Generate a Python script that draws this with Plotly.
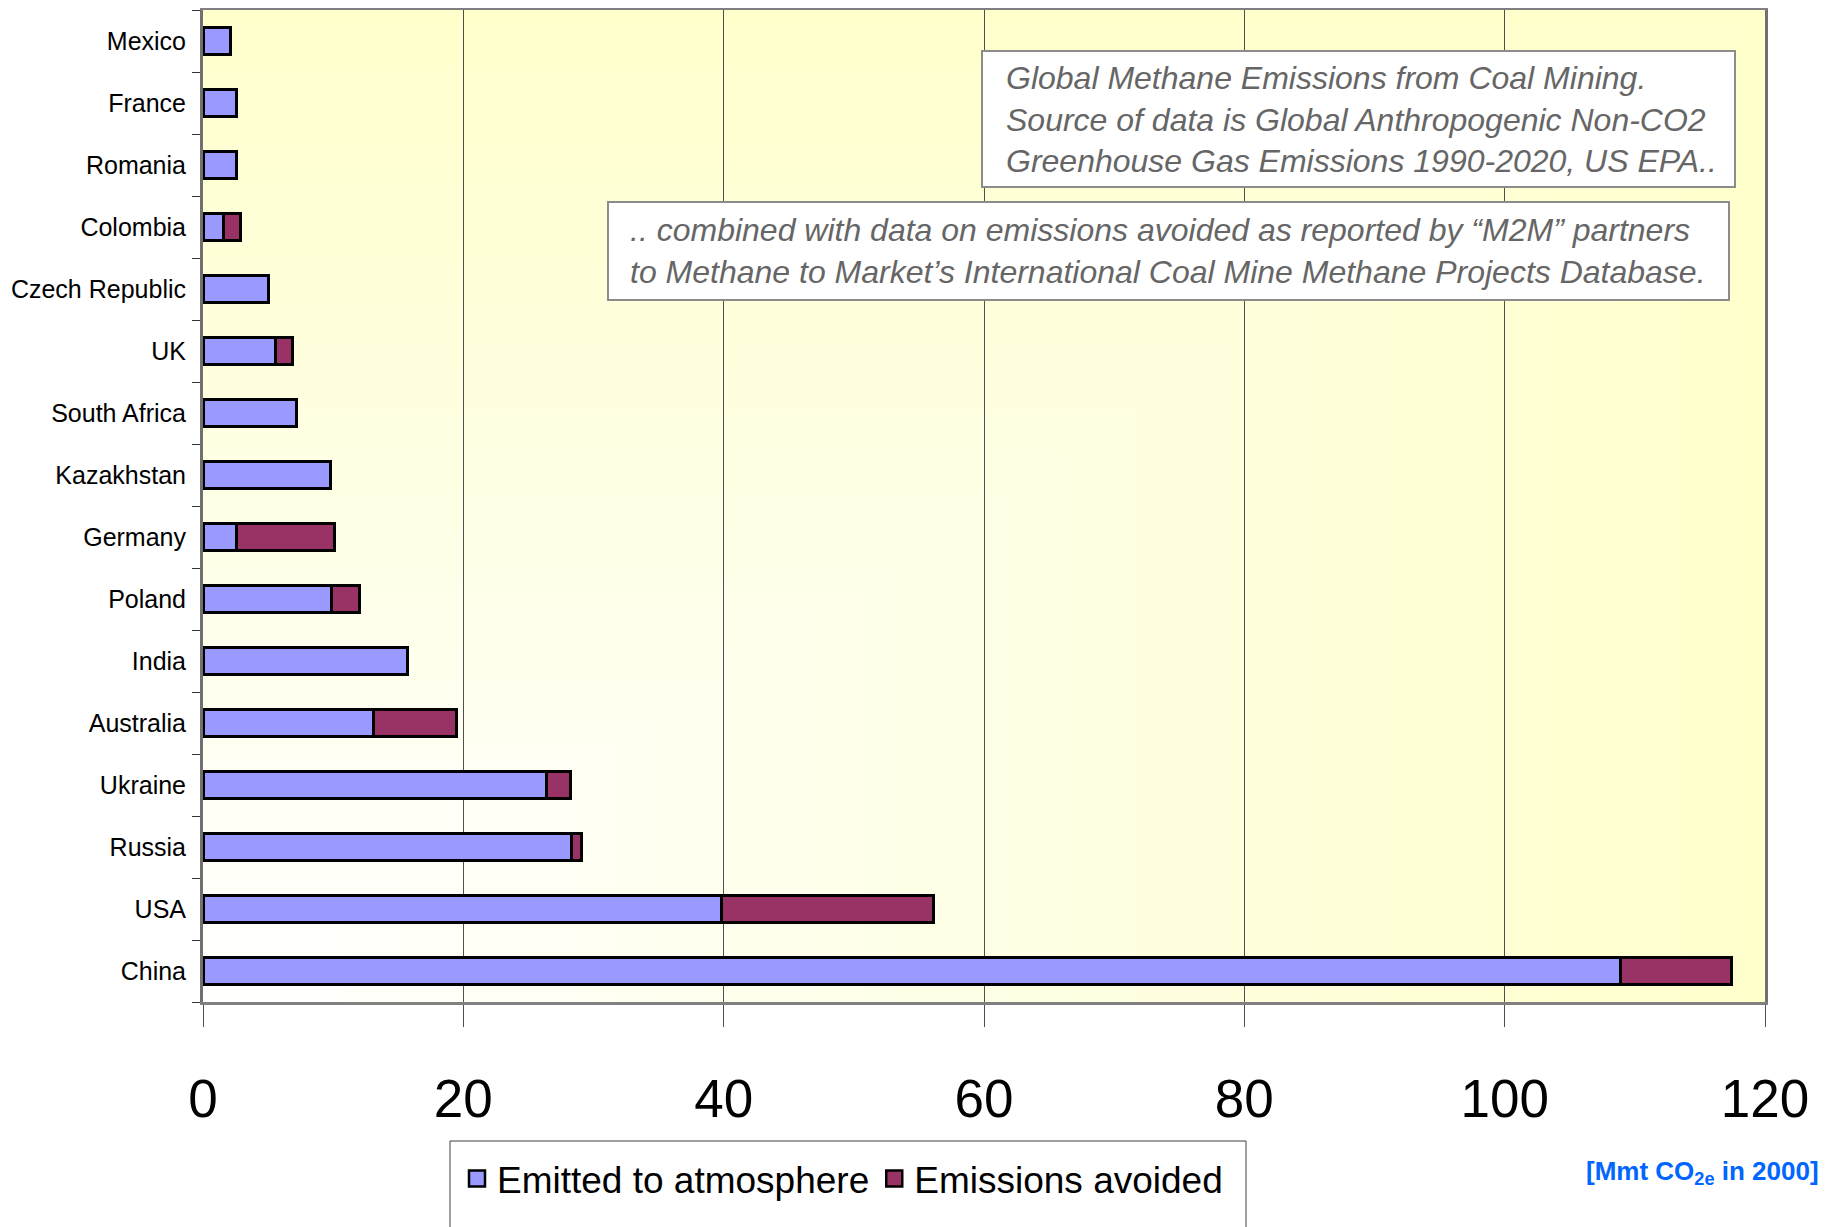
import zlib, struct, base64
import plotly.graph_objects as go

# ---- data (bottom -> top on the category axis) ----
countries = ["China", "USA", "Russia", "Ukraine", "Australia", "India", "Poland", "Germany",
             "Kazakhstan", "South Africa", "UK", "Czech Republic", "Colombia", "Romania",
             "France", "Mexico"]
emitted = [108.9, 39.8, 28.3, 26.4, 13.1, 15.7, 9.9, 2.6, 9.8, 7.2, 5.6, 5.0, 1.6, 2.6, 2.6, 2.1]
avoided = [8.5, 16.3, 0.8, 1.8, 6.4, None, 2.1, 7.5, None, None, 1.3, None, 1.3, None, None, None]
x_ticks = [0, 20, 40, 60, 80, 100, 120]
series_names = ["Emitted to atmosphere", "Emissions avoided"]
series_colors = ["#9999FF", "#993366"]

SANS = "Liberation Sans, Arial, sans-serif"

# ---- background gradient (white lower-left corner -> light yellow) ----
def gradient_uri(w=160, h=100):
    raw = bytearray()
    for j in range(h):
        raw.append(0)
        v = 1 - j / (h - 1)
        for i in range(w):
            u = i / (w - 1)
            t = max(u, v)
            raw.extend((255, 255, int(round(255 - 51 * t))))
    def chunk(tag, data):
        c = struct.pack(">I", len(data)) + tag + data
        return c + struct.pack(">I", zlib.crc32(tag + data) & 0xffffffff)
    png = (b"\x89PNG\r\n\x1a\n"
           + chunk(b"IHDR", struct.pack(">IIBBBBB", w, h, 8, 2, 0, 0, 0))
           + chunk(b"IDAT", zlib.compress(bytes(raw), 9))
           + chunk(b"IEND", b""))
    return "data:image/png;base64," + base64.b64encode(png).decode()

fig = go.Figure()
for name, vals, col in zip(series_names, [emitted, avoided], series_colors):
    fig.add_trace(go.Bar(y=countries, x=vals, orientation="h", name=name, showlegend=False,
                         legendgroup=name,
                         marker=dict(color=col, line=dict(color="black", width=3))))
# legend entries with larger square swatches
for name, col in zip(series_names, series_colors):
    fig.add_trace(go.Scatter(x=[None], y=[None], mode="markers", name=name, legendgroup=name,
                             marker=dict(symbol="square", size=16, color=col,
                                         line=dict(color="black", width=2.5)),
                             hoverinfo="skip"))

# page has an 8px body margin; size the figure so it fits the window exactly
OFF = 8
W, H = 1829 - OFF, 1227 - OFF
PL, PR, PT, PB = 203, 1765, 10, 1002          # plot area in page pixels
L, T = PL - OFF, PT - OFF
R, B = W - (PR - OFF), H - (PB - OFF)
pw, ph = PR - PL, PB - PT
def px(xp):
    return (xp - PL) / pw
def py(yp):
    return (PB - yp) / ph

fig.update_layout(
    width=W, height=H,
    margin=dict(l=L, r=R, t=T, b=B, autoexpand=False),
    barmode="stack", bargap=0.56,
    paper_bgcolor="white", plot_bgcolor="white",
    showlegend=True,
    legend=dict(orientation="h", x=px(457), y=py(1148), xanchor="left", yanchor="top",
                font=dict(family=SANS, size=37, color="black"),
                bgcolor="rgba(0,0,0,0)", borderwidth=0, itemwidth=30, traceorder="normal",
                itemsizing="trace"),
    xaxis=dict(range=[0, 120], tickvals=x_ticks, showgrid=True, gridcolor="#505050", gridwidth=1,
               showline=True, linecolor="#808080", linewidth=3, mirror=True,
               ticks="outside", ticklen=22, tickcolor="#505050", tickwidth=1,
               tickfont=dict(family=SANS, size=53, color="black"), ticklabelstandoff=26,
               zeroline=False, fixedrange=True, automargin=False),
    yaxis=dict(categoryorder="array", categoryarray=countries, showgrid=False,
               showline=True, linecolor="#707070", linewidth=3, mirror=True,
               ticks="outside", ticklen=8, tickcolor="#333333", tickwidth=1, tickson="boundaries",
               tickfont=dict(family=SANS, size=25, color="black"), ticklabelstandoff=9,
               fixedrange=True, automargin=False),
    images=[dict(source=gradient_uri(), xref="paper", yref="paper", x=0, y=1, sizex=1, sizey=1,
                 sizing="stretch", layer="below", xanchor="left", yanchor="top")],
    shapes=[
        dict(type="rect", xref="paper", yref="paper", x0=px(982), x1=px(1735), y0=py(187), y1=py(51),
             fillcolor="white", line=dict(color="#8c8c8c", width=2), layer="above"),
        dict(type="rect", xref="paper", yref="paper", x0=px(608), x1=px(1729), y0=py(300), y1=py(202),
             fillcolor="white", line=dict(color="#8c8c8c", width=2), layer="above"),
        dict(type="rect", xref="paper", yref="paper", x0=px(450), x1=px(1246), y0=py(1240), y1=py(1141),
             fillcolor="rgba(0,0,0,0)", line=dict(color="#404040", width=1), layer="above"),
    ],
    annotations=[
        dict(xref="paper", yref="paper", x=px(1004), y=py(120), xanchor="left", yanchor="middle",
             align="left", showarrow=False,
             text="<i>Global Methane Emissions from Coal Mining.<br>"
                  "Source of data is Global Anthropogenic Non-CO2<br>"
                  "Greenhouse Gas Emissions 1990-2020, US EPA..</i>",
             font=dict(family=SANS, size=32, color="#666666")),
        dict(xref="paper", yref="paper", x=px(628), y=py(251), xanchor="left", yanchor="middle",
             align="left", showarrow=False,
             text="<i>.. combined with data on emissions avoided as reported by \u201cM2M\u201d partners<br>"
                  "to Methane to Market\u2019s International Coal Mine Methane Projects Database.</i>",
             font=dict(family=SANS, size=32, color="#666666")),
        dict(xref="paper", yref="paper", x=px(1821), y=py(1172), xanchor="right", yanchor="middle",
             showarrow=False, text="<b>[Mmt CO<sub>2e</sub> in 2000]</b>",
             font=dict(family=SANS, size=26, color="#0066FF")),
    ],
)

fig.write_html("out.html")
